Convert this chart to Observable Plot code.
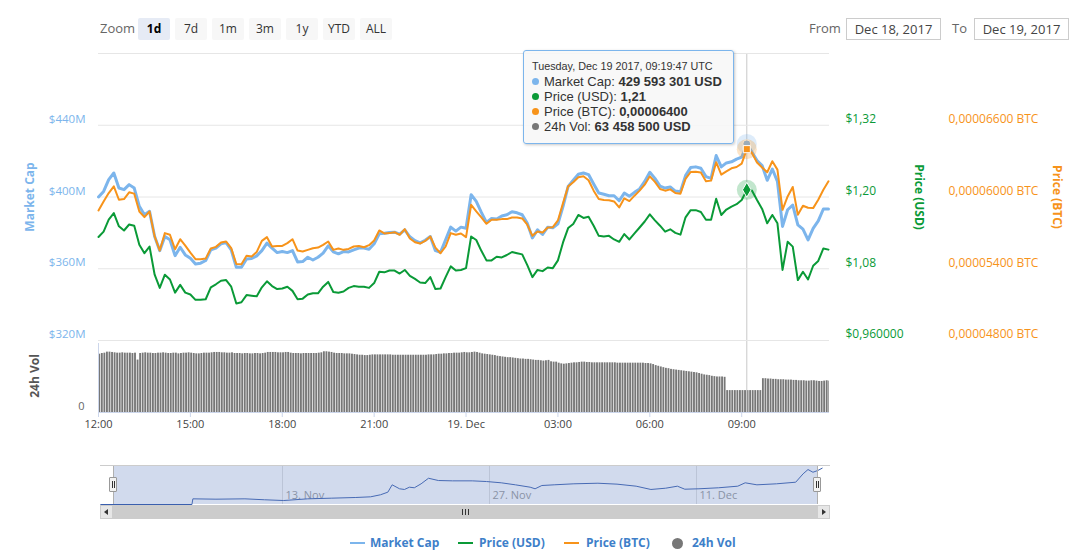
<!DOCTYPE html>
<html>
<head>
<meta charset="utf-8">
<script src="https://cdn.jsdelivr.net/npm/d3@7"></script>
<script src="https://cdn.jsdelivr.net/npm/@observablehq/plot@0.6"></script>
<style>
  html, body { margin: 0; padding: 0; background: #fff; }
  #chart { position: relative; width: 1086px; height: 556px; overflow: hidden; font-family: "Open Sans", sans-serif; }
  #chart svg { position: absolute; left: 0; top: 0; background: transparent !important; max-width: none !important; overflow: visible; }
  .zlabel { position: absolute; left: 100px; top: 19px; font-size: 13px; color: #666; }
  .zbtn { position: absolute; top: 18px; width: 32px; height: 22px; line-height: 22px; text-align: center; font-size: 12px; color: #333; background: #f7f7f7; border-radius: 2px; }
  .zbtn.on { background: #e6ebf5; font-weight: bold; color: #000; }
  .rlabel { position: absolute; top: 19px; font-size: 13px; color: #666; }
  .inp { position: absolute; top: 18px; width: 95px; height: 22px; border: 1px solid #ccc; box-sizing: border-box; font-size: 13px; color: #444; text-align: center; line-height: 20px; }
  #tip { position: absolute; left: 523px; top: 50px; width: 211px; height: 94px; box-sizing: border-box; border: 1px solid #7cb5ec; border-radius: 3px; background: rgba(247,247,247,0.88); box-shadow: 1px 1px 3px rgba(0,0,0,0.22); padding: 9px 0 0 8px; font-family: "Liberation Sans", Arial, sans-serif; font-size: 13px; color: #333; white-space: nowrap; }
  #tip .head { font-size: 10.8px; line-height: 13px; height: 14px; }
  #tip .row { line-height: 15px; height: 15px; }
  #tip .dot { display: inline-block; width: 7px; height: 7px; border-radius: 50%; margin-right: 5px; vertical-align: 1px; }
  .nav { position: absolute; }
  .leg { position: absolute; top: 535px; font-size: 12px; font-weight: bold; color: #3e7fc9; line-height: 16px; }
</style>
</head>
<body>
<div id="chart"></div>
<script>
// ---------------- data ----------------
const startTime = "2017-12-18T12:00:00Z";
const endTime = "2017-12-19T11:52:00Z";
const stepMinutes = 10;

// Market cap, millions of USD (10-minute samples)
const marketCapM = [
  400.0, 403.1, 409.7, 413.4, 405.0, 404.1, 406.9, 405.0, 394.8, 390.1, 392.0, 378.0,
  370.1, 378.0, 376.1, 367.3, 372.0, 367.7, 365.9, 362.7, 363.1, 364.6, 370.5, 371.5,
  373.9, 374.6, 370.5, 360.8, 360.8, 365.5, 365.7, 367.2, 370.1, 374.3, 371.5, 369.0,
  369.6, 369.0, 370.1, 363.8, 364.0, 366.4, 364.9, 366.4, 368.7, 372.8, 369.4, 368.3,
  369.6, 369.4, 370.5, 371.5, 371.5, 370.9, 373.9, 379.5, 379.8, 380.2, 380.4, 379.3,
  381.7, 377.8, 375.7, 374.4, 375.9, 378.0, 370.1, 369.2, 376.1, 383.2, 381.0, 383.2,
  382.6, 401.3, 397.6, 391.4, 385.8, 388.0, 387.7, 389.4, 390.1, 391.8, 391.2, 390.1,
  385.4, 377.2, 381.7, 379.1, 383.2, 382.8, 385.1, 394.8, 405.9, 409.3, 412.7, 413.4,
  412.5, 407.3, 402.2, 401.5, 400.7, 400.7, 397.9, 402.2, 400.4, 402.6, 404.5, 408.7,
  413.8, 410.4, 406.1, 405.0, 405.6, 403.3, 403.0, 411.9, 416.4, 416.8, 416.0, 411.4,
  410.4, 423.1, 416.8, 419.0, 419.6, 421.1, 422.2, 429.6, 425.0, 420.3, 417.5, 409.3,
  415.6, 408.7, 383.6, 392.9, 395.5, 384.5, 382.1, 376.1, 382.5, 386.7, 393.3, 393.3
];

// Price in USD
const priceUsd = [
  1.133, 1.142, 1.162, 1.173, 1.151, 1.144, 1.154, 1.152, 1.120, 1.106, 1.117, 1.070,
  1.048, 1.070, 1.062, 1.040, 1.053, 1.040, 1.037, 1.028, 1.028, 1.029, 1.049, 1.054,
  1.060, 1.061, 1.050, 1.022, 1.024, 1.036, 1.035, 1.034, 1.049, 1.059, 1.051, 1.046,
  1.047, 1.050, 1.043, 1.029, 1.030, 1.037, 1.039, 1.039, 1.050, 1.058, 1.041, 1.040,
  1.042, 1.048, 1.051, 1.050, 1.050, 1.048, 1.056, 1.075, 1.074, 1.077, 1.077, 1.072,
  1.078, 1.068, 1.063, 1.057, 1.056, 1.066, 1.046, 1.047, 1.066, 1.084, 1.077, 1.078,
  1.081, 1.134, 1.128, 1.110, 1.094, 1.094, 1.100, 1.099, 1.103, 1.108, 1.106, 1.104,
  1.086, 1.066, 1.078, 1.076, 1.082, 1.081, 1.094, 1.124, 1.148, 1.155, 1.170, 1.165,
  1.167, 1.152, 1.135, 1.134, 1.135, 1.129, 1.125, 1.138, 1.129, 1.139, 1.149, 1.159,
  1.171, 1.161, 1.152, 1.142, 1.146, 1.140, 1.137, 1.166, 1.178, 1.178, 1.175, 1.162,
  1.162, 1.197, 1.170, 1.179, 1.184, 1.188, 1.195, 1.212, 1.211, 1.195, 1.180, 1.156,
  1.170, 1.156, 1.078, 1.125, 1.117, 1.061, 1.075, 1.062, 1.085, 1.093, 1.114, 1.112
];

// Price in BTC
const priceBtc = [
  5.888e-5, 5.963e-5, 6.033e-5, 6.089e-5, 5.977e-5, 5.983e-5, 6.039e-5, 6.028e-5, 5.879e-5, 5.832e-5, 5.879e-5, 5.670e-5,
  5.552e-5, 5.698e-5, 5.684e-5, 5.563e-5, 5.647e-5, 5.594e-5, 5.535e-5, 5.480e-5, 5.480e-5, 5.485e-5, 5.569e-5, 5.583e-5,
  5.619e-5, 5.628e-5, 5.572e-5, 5.440e-5, 5.438e-5, 5.508e-5, 5.502e-5, 5.541e-5, 5.633e-5, 5.664e-5, 5.586e-5, 5.591e-5,
  5.591e-5, 5.614e-5, 5.647e-5, 5.552e-5, 5.544e-5, 5.558e-5, 5.572e-5, 5.577e-5, 5.600e-5, 5.628e-5, 5.558e-5, 5.569e-5,
  5.558e-5, 5.566e-5, 5.586e-5, 5.591e-5, 5.580e-5, 5.597e-5, 5.636e-5, 5.720e-5, 5.695e-5, 5.698e-5, 5.706e-5, 5.684e-5,
  5.731e-5, 5.653e-5, 5.622e-5, 5.611e-5, 5.633e-5, 5.670e-5, 5.577e-5, 5.530e-5, 5.586e-5, 5.698e-5, 5.684e-5, 5.695e-5,
  5.664e-5, 5.935e-5, 5.879e-5, 5.829e-5, 5.776e-5, 5.810e-5, 5.810e-5, 5.815e-5, 5.815e-5, 5.829e-5, 5.829e-5, 5.821e-5,
  5.768e-5, 5.675e-5, 5.712e-5, 5.703e-5, 5.745e-5, 5.748e-5, 5.804e-5, 5.949e-5, 6.089e-5, 6.123e-5, 6.165e-5, 6.173e-5,
  6.140e-5, 6.053e-5, 5.983e-5, 5.975e-5, 5.972e-5, 5.963e-5, 5.913e-5, 5.989e-5, 5.966e-5, 6.011e-5, 6.053e-5, 6.103e-5,
  6.173e-5, 6.126e-5, 6.067e-5, 6.053e-5, 6.064e-5, 6.033e-5, 6.028e-5, 6.151e-5, 6.209e-5, 6.212e-5, 6.204e-5, 6.131e-5,
  6.137e-5, 6.291e-5, 6.187e-5, 6.215e-5, 6.240e-5, 6.251e-5, 6.279e-5, 6.400e-5, 6.369e-5, 6.288e-5, 6.246e-5, 6.207e-5,
  6.299e-5, 6.229e-5, 5.893e-5, 6.005e-5, 6.084e-5, 5.851e-5, 5.927e-5, 5.910e-5, 5.907e-5, 5.977e-5, 6.061e-5, 6.131e-5
];

// 24h volume, millions of USD (5-minute samples, one row per hour)
const volStepMinutes = 5;
const volume24hM = [
  169,171,172,175,175,174,173,172,172,173,172,172,
  172,171,172,152,171,172,173,172,172,171,171,172,
  172,173,172,171,171,172,172,170,171,172,172,173,
  172,171,170,170,171,172,172,172,173,174,174,174,
  173,173,172,172,173,171,171,171,170,171,171,170,
  170,171,171,170,171,172,174,174,174,174,173,173,
  173,174,174,172,171,171,171,170,171,171,171,171,
  171,171,172,173,176,176,175,174,172,171,171,171,
  170,170,170,169,168,167,166,166,165,165,166,167,
  167,167,167,167,167,167,167,166,166,166,166,166,
  166,166,166,166,166,166,166,166,166,167,167,167,
  168,169,169,170,170,171,171,172,172,172,173,174,
  173,173,174,175,174,172,170,169,168,167,166,165,
  163,162,161,160,159,159,158,157,156,155,155,154,
  154,153,152,151,151,150,149,150,151,147,146,146,
  143,141,140,141,142,143,144,144,145,146,146,145,
  145,144,144,144,144,144,144,144,144,144,144,143,
  143,143,143,143,143,143,143,143,143,143,142,142,
  141,139,136,134,132,130,128,127,125,124,123,122,
  121,120,119,118,117,116,115,113,111,109,108,107,
  105,104,103,103,103,102,63.5,63.5,63.5,63.5,63.5,63.5,
  63.5,63.5,63.5,63.5,63.5,63.5,63.5,63.5,98,98,97,97,
  96,96,95,95,95,94,94,94,93,93,92,92,
  92,91,91,92,92,91,90,90,91,92,91,90
];

// axis ticks and labels
const capGrid = [320, 360, 400, 440, 480];
const capTicks = [320, 360, 400, 440];
const capTickLabels = ["$320M", "$360M", "$400M", "$440M"];
const usdTicks = [0.96, 1.08, 1.20, 1.32];
const usdTickLabels = ["$0,960000", "$1,08", "$1,20", "$1,32"];
const btcTicks = [0.000048, 0.000054, 0.000060, 0.000066];
const btcTickLabels = ["0,00004800 BTC", "0,00005400 BTC", "0,00006000 BTC", "0,00006600 BTC"];
const volTicks = [0];
const volTickLabels = ["0"];
const timeTicks = ["2017-12-18T12:00:00Z", "2017-12-18T15:00:00Z", "2017-12-18T18:00:00Z", "2017-12-18T21:00:00Z",
                   "2017-12-19T00:00:00Z", "2017-12-19T03:00:00Z", "2017-12-19T06:00:00Z", "2017-12-19T09:00:00Z"];
const timeTickLabels = ["12:00", "15:00", "18:00", "21:00", "19. Dec", "03:00", "06:00", "09:00"];

// hovered point + tooltip text
const hoverIndex = 127;
const tooltipHeader = "Tuesday, Dec 19 2017, 09:19:47 UTC";
const tooltipNames = ["Market Cap", "Price (USD)", "Price (BTC)", "24h Vol"];
const tooltipValues = ["429 593 301 USD", "1,21", "0,00006400", "63 458 500 USD"];

// navigator (overview) series, market cap in millions of USD
const navStart = "2017-10-31T16:35:00Z";
const navEnd = "2017-12-20T01:30:00Z";
const navDates = [
  "2017-10-31T17:00Z", "2017-11-06T21:00Z", "2017-11-06T22:30Z", "2017-11-08T12:00Z", "2017-11-10T11:00Z",
  "2017-11-11T19:00Z", "2017-11-13T02:00Z", "2017-11-14T17:00Z", "2017-11-16T08:00Z", "2017-11-17T23:00Z",
  "2017-11-18T23:00Z", "2017-11-19T15:00Z", "2017-11-20T03:00Z", "2017-11-20T10:00Z", "2017-11-20T22:00Z",
  "2017-11-21T06:00Z", "2017-11-21T14:00Z", "2017-11-21T22:00Z", "2017-11-22T09:00Z", "2017-11-22T21:00Z",
  "2017-11-23T13:00Z", "2017-11-24T12:00Z", "2017-11-25T20:00Z", "2017-11-26T19:00Z", "2017-11-27T19:00Z",
  "2017-11-28T18:00Z", "2017-11-29T18:00Z", "2017-11-30T02:00Z", "2017-11-30T13:00Z", "2017-12-01T09:00Z",
  "2017-12-02T17:00Z", "2017-12-04T08:00Z", "2017-12-05T15:00Z", "2017-12-06T22:00Z", "2017-12-07T22:00Z",
  "2017-12-08T22:00Z", "2017-12-09T17:00Z", "2017-12-10T05:00Z", "2017-12-11T04:00Z", "2017-12-12T12:00Z",
  "2017-12-13T19:00Z", "2017-12-14T07:00Z", "2017-12-15T02:00Z", "2017-12-16T10:00Z", "2017-12-17T17:00Z",
  "2017-12-18T05:00Z", "2017-12-18T13:00Z", "2017-12-18T21:00Z", "2017-12-19T05:00Z", "2017-12-19T12:00Z"
];
const navMarketCapM = [
  0, 0, 67, 63, 67,
  56, 47, 67, 75, 83,
  91, 115, 146, 233, 186,
  178, 205, 198, 245, 311,
  284, 280, 280, 272, 257,
  233, 205, 186, 225, 233,
  245, 252, 241, 217, 178,
  193, 217, 181, 186, 198,
  217, 257, 233, 245, 264,
  363, 414, 382, 403, 430
];
const navTicks = ["2017-11-13T00:00Z", "2017-11-27T00:00Z", "2017-12-11T00:00Z"];
const navTickLabels = ["13. Nov", "27. Nov", "11. Dec"];

const zoomButtons = ["1d", "7d", "1m", "3m", "1y", "YTD", "ALL"];
const rangeFrom = "Dec 18, 2017";
const rangeTo = "Dec 19, 2017";
const legendNames = ["Market Cap", "Price (USD)", "Price (BTC)", "24h Vol"];

// ---------------- build ----------------
const C_CAP = "#7cb5ec", C_USD = "#0a9a37", C_BTC = "#f7931a", C_VOL = "#777777";
const t0 = new Date(startTime).getTime();
const rows = marketCapM.map((mc, i) => ({
  t: new Date(t0 + i * stepMinutes * 60000), mc, usd: priceUsd[i], btc: priceBtc[i]
}));
const volRows = volume24hM.map((v, j) => ({
  t1: new Date(t0 + j * volStepMinutes * 60000),
  t2: new Date(t0 + (j + 1) * volStepMinutes * 60000),
  v
}));
const hover = [rows[hoverIndex]];
const xDomain = [new Date(startTime), new Date(endTime)];
const lookup = (ticks, labels) => { const m = new Map(ticks.map((t, i) => [+new Date(t), labels[i]])); return d => m.get(+d); };
const lookupNum = (ticks, labels) => { const m = new Map(ticks.map((t, i) => [t, labels[i]])); return d => m.get(d); };

const chart = document.getElementById("chart");
const W = 1086, H = 440;
const common = {
  width: W, height: H, marginLeft: 98, marginRight: 257, marginTop: 53, marginBottom: 100,
  x: {type: "utc", domain: xDomain, axis: null},
  style: {fontFamily: "Open Sans, sans-serif", background: "transparent"}
};

function place(svg) { svg.style.background = "transparent"; svg.style.maxWidth = "none"; chart.appendChild(svg); }

// Volume panel + time axis + crosshair
place(Plot.plot({
  width: W, height: H, marginLeft: 98, marginRight: 257, marginTop: 343, marginBottom: 28,
  style: {fontFamily: "Open Sans, sans-serif", background: "transparent"},
  x: {type: "utc", domain: xDomain},
  y: {domain: [0, 200]},
  marks: [
    Plot.rectY(volRows, {x1: "t1", x2: "t2", y: "v", fill: C_VOL, insetLeft: 0.35, insetRight: 0.35, clip: true}),
    Plot.ruleY([0], {stroke: "#ccd6eb"}),
    Plot.ruleX([xDomain[0]], {stroke: "#ccd6eb"}),
    Plot.axisY({ticks: volTicks, tickFormat: lookupNum(volTicks, volTickLabels), tickSize: 0, tickPadding: 14, dy: -6, fill: "#666", fontSize: 11, label: null}),
    Plot.axisX({ticks: timeTicks.map(d => new Date(d)), tickFormat: lookup(timeTicks, timeTickLabels), tickSize: 5, tickPadding: 3, stroke: "#ccd6eb", fill: "#444", fontSize: 11, label: null}),
    Plot.text(["24h Vol"], {text: d => d, frameAnchor: "left", textAnchor: "middle", dx: -63, dy: -2, rotate: -90, fill: "#555", fontSize: 12, fontWeight: "bold"}),
    Plot.ruleX(hover, {x: "t", stroke: "#c8c8c8", insetTop: -290})
  ]
}));

// Market cap (left axis + grid)
place(Plot.plot({
  ...common,
  y: {domain: [320, 480]},
  marks: [
    Plot.gridY(capGrid, {stroke: "#e6e6e6", strokeOpacity: 1}),
    Plot.axisY({ticks: capTicks, tickFormat: lookupNum(capTicks, capTickLabels), tickSize: 0, tickPadding: 13, dy: -6, fill: C_CAP, fontSize: 11.5, label: null}),
    Plot.text(["Market Cap"], {text: d => d, frameAnchor: "left", textAnchor: "middle", dx: -68, rotate: -90, fill: C_CAP, fontSize: 12, fontWeight: "bold"}),
    Plot.line(rows, {x: "t", y: "mc", stroke: C_CAP, strokeWidth: 3}),
    Plot.dot(hover, {x: "t", y: "mc", r: 10, fill: C_CAP, fillOpacity: 0.25}),
    Plot.dot(hover, {x: "t", y: "mc", r: 4, fill: C_CAP, stroke: "#fff", strokeWidth: 1})
  ]
}));

// Price USD (right axis)
place(Plot.plot({
  ...common,
  y: {domain: [0.96, 1.44]},
  marks: [
    Plot.axisY({ticks: usdTicks, anchor: "right", tickFormat: lookupNum(usdTicks, usdTickLabels), tickSize: 0, tickPadding: 16, dy: -6, fill: C_USD, fontSize: 12, label: null}),
    Plot.text(["Price (USD)"], {text: d => d, frameAnchor: "right", textAnchor: "middle", dx: 89, rotate: 90, fill: C_USD, fontSize: 12, fontWeight: "bold"}),
    Plot.line(rows, {x: "t", y: "usd", stroke: C_USD, strokeWidth: 2}),
    Plot.dot(hover, {x: "t", y: "usd", r: 10, fill: C_USD, fillOpacity: 0.25}),
    Plot.dot(hover, {x: "t", y: "usd", r: 4.5, symbol: "diamond", fill: C_USD, stroke: "#fff", strokeWidth: 1})
  ]
}));

// Price BTC (far right axis)
place(Plot.plot({
  ...common,
  y: {domain: [0.000048, 0.000072]},
  marks: [
    Plot.axisY({ticks: btcTicks, anchor: "right", tickFormat: lookupNum(btcTicks, btcTickLabels), tickSize: 0, tickPadding: 119, dy: -6, fill: C_BTC, fontSize: 12, label: null}),
    Plot.text(["Price (BTC)"], {text: d => d, frameAnchor: "right", textAnchor: "middle", dx: 227, rotate: 90, fill: C_BTC, fontSize: 12, fontWeight: "bold"}),
    Plot.line(rows, {x: "t", y: "btc", stroke: C_BTC, strokeWidth: 2}),
    Plot.dot(hover, {x: "t", y: "btc", r: 10, fill: C_BTC, fillOpacity: 0.25}),
    Plot.dot(hover, {x: "t", y: "btc", r: 4, symbol: "square", fill: C_BTC, stroke: "#fff", strokeWidth: 1})
  ]
}));

// Navigator
const navRows = navDates.map((d, i) => ({t: new Date(d), v: navMarketCapM[i]}));
place(Plot.plot({
  width: W, height: 520, marginLeft: 100, marginRight: 256, marginTop: 466, marginBottom: 16,
  style: {fontFamily: "Open Sans, sans-serif", background: "transparent"},
  x: {type: "utc", domain: [new Date(navStart), new Date(navEnd)], axis: null},
  y: {domain: [0, 450], axis: null},
  marks: [
    Plot.gridX(navTicks.map(d => new Date(d)), {stroke: "#e0e0e0", strokeOpacity: 1}),
    Plot.text(navTicks.map(d => new Date(d)), {x: d => d, text: (d, i) => navTickLabels[i], frameAnchor: "bottom", textAnchor: "start", dx: 3, dy: -6, fill: "#999", fontSize: 11}),
    Plot.line(navRows, {x: "t", y: "v", stroke: "#3a5fae", strokeWidth: 1})
  ]
}));

// ---------------- HTML chrome ----------------
function el(cls, style, text, parent = chart) {
  const d = document.createElement("div");
  if (cls) d.className = cls;
  Object.assign(d.style, style);
  if (text != null) d.textContent = text;
  parent.appendChild(d);
  return d;
}

// range selector
el("zlabel", {}, "Zoom");
zoomButtons.forEach((b, k) => el("zbtn" + (k === 0 ? " on" : ""), {left: (138 + 37 * k) + "px"}, b));
el("rlabel", {left: "809px"}, "From");
el("inp", {left: "846px"}, rangeFrom);
el("rlabel", {left: "952px"}, "To");
el("inp", {left: "974px"}, rangeTo);

// navigator chrome
el("nav", {left: "100px", top: "465px", width: "730px", height: "1px", background: "#cccccc"});
el("nav", {left: "113px", top: "466px", width: "704px", height: "38px", background: "rgba(102,133,194,0.3)"});
el("nav", {left: "113px", top: "466px", width: "1px", height: "38px", background: "#b0b0b0"});
el("nav", {left: "817px", top: "466px", width: "1px", height: "38px", background: "#b0b0b0"});
[113, 817].forEach(cx => {
  const h = el("nav", {left: (cx - 4) + "px", top: "477px", width: "8px", height: "15px", boxSizing: "border-box",
    background: "#f2f2f2", border: "1px solid #999", borderRadius: "1px"});
  el("nav", {left: "2px", top: "3px", width: "1px", height: "7px", background: "#333"}, null, h);
  el("nav", {left: "4px", top: "3px", width: "1px", height: "7px", background: "#333"}, null, h);
});
// scrollbar
el("nav", {left: "100px", top: "505px", width: "730px", height: "14px", background: "#f2f2f2"});
el("nav", {left: "100px", top: "505px", width: "13px", height: "14px", background: "#e6e6e6", boxSizing: "border-box", border: "1px solid #ccc"});
el("nav", {left: "817px", top: "505px", width: "13px", height: "14px", background: "#e6e6e6", boxSizing: "border-box", border: "1px solid #ccc"});
el("nav", {left: "104px", top: "509px", width: "0", height: "0", borderTop: "3px solid transparent", borderBottom: "3px solid transparent", borderRight: "4px solid #333"});
el("nav", {left: "822px", top: "509px", width: "0", height: "0", borderTop: "3px solid transparent", borderBottom: "3px solid transparent", borderLeft: "4px solid #333"});
el("nav", {left: "113px", top: "505px", width: "704px", height: "14px", background: "#cccccc"});
[462, 465, 468].forEach(gx => el("nav", {left: gx + "px", top: "509px", width: "1px", height: "6px", background: "#333"}));

// tooltip
const tip = el("", {}, null);
tip.id = "tip";
el("head", {}, tooltipHeader, tip);
const tipColors = [C_CAP, C_USD, C_BTC, C_VOL];
tooltipNames.forEach((n, i) => {
  const r = el("row", {}, null, tip);
  const dot = document.createElement("span"); dot.className = "dot"; dot.style.background = tipColors[i]; r.appendChild(dot);
  r.appendChild(document.createTextNode(n + ": "));
  const b = document.createElement("b"); b.textContent = tooltipValues[i]; r.appendChild(b);
});

// legend
const legSym = [350, 458, 564, 677];
const legTxt = [370, 479, 586, 692];
legendNames.forEach((n, i) => {
  if (i < 3) {
    el("nav", {left: legSym[i] + "px", top: "542px", width: "15px", height: "2px", background: tipColors[i]});
  } else {
    el("nav", {left: (legSym[i] - 5) + "px", top: "538px", width: "11px", height: "11px", borderRadius: "50%", background: C_VOL});
  }
  el("leg", {left: legTxt[i] + "px"}, n);
});
</script>
</body>
</html>
